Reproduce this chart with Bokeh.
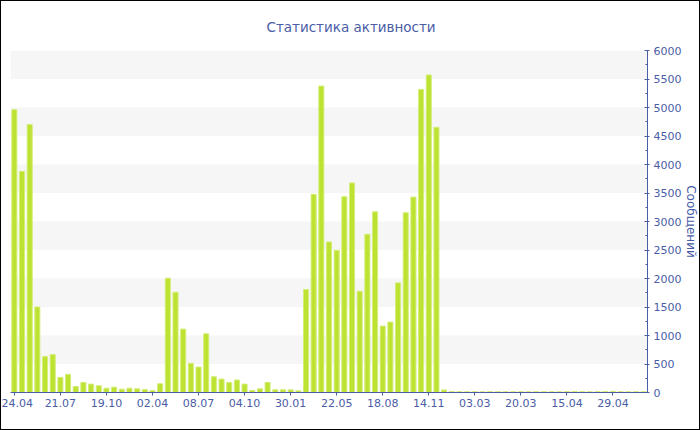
from bokeh.plotting import figure
from bokeh.models import Range1d, FixedTicker
from bokeh.embed import file_html
from bokeh.resources import INLINE

BAR_VALUES = [
    4960, 3880, 4700, 1500, 630, 665, 265, 318, 106, 176,
    147, 118, 76, 94, 59, 76, 65, 53, 35, 153,
    2006, 1759, 1112, 512, 447, 1029, 276, 235, 176, 220,
    147, 35, 65, 176, 47, 47, 47, 29, 1806, 3476,
    5376, 2641, 2494, 3435, 3676, 1776, 2776, 3170, 1165, 1235,
    1923, 3153, 3429, 5317, 5570, 4653, 45, 18, 16, 14,
    15, 13, 16, 15, 14, 13, 15, 14, 16, 15,
    14, 13, 18, 20, 17, 14, 16, 19, 20, 15,
    14, 15, 14,
]
TICK_LABELS = ["24.04", "21.07", "19.10", "02.04", "08.07", "04.10", "30.01",
               "22.05", "18.08", "14.11", "03.03", "20.03", "15.04", "29.04"]
TICK_STEP = 6
Y_MAX = 6000
Y_STEP = 500

BLUE = "#4a5da6"
FONT = "DejaVu Sans"

xs = list(range(len(BAR_VALUES)))
tick_pos = [i * TICK_STEP for i in range(len(TICK_LABELS))]

p = figure(width=700, height=430, output_backend="svg", toolbar_location=None,
           x_range=Range1d(-0.5, len(BAR_VALUES) - 0.5), y_range=Range1d(0, Y_MAX),
           y_axis_location="right",
           min_border_left=9, min_border_right=48, min_border_top=49, min_border_bottom=39,
           title="Статистика активности")
p.outline_line_color = None
p.background_fill_color = "white"
p.border_fill_color = "white"
p.styles = {"border": "1px solid black", "box-sizing": "border-box"}

p.title.text_font = FONT
p.title.text_font_size = "13.5px"
p.title.text_font_style = "normal"
p.title.text_color = BLUE
p.title.align = "left"
p.title.offset = 256
p.title.standoff = 30
p.title.vertical_align = "middle"

p.vbar(x=xs, top=BAR_VALUES, width=0.66, bottom=0,
       fill_color="#bde231", line_color="#d3ee78", line_width=1)

# grid bands
p.xgrid.visible = False
p.ygrid.grid_line_color = None
p.ygrid.band_fill_color = "#f6f6f6"
p.ygrid.band_fill_alpha = 1.0

yax = p.yaxis[0]
yax.ticker = FixedTicker(ticks=list(range(0, Y_MAX + 1, Y_STEP)),
                         minor_ticks=list(range(0, Y_MAX + 1, Y_STEP // 2)))
yax.axis_label = "Сообщений"
yax.axis_label_text_font = FONT
yax.axis_label_text_font_size = "12px"
yax.axis_label_text_font_style = "normal"
yax.axis_label_text_color = BLUE
yax.axis_label_standoff = 0
yax.major_label_text_font = FONT
yax.major_label_text_font_size = "11px"
yax.major_label_text_color = BLUE
yax.major_label_standoff = 4
yax.axis_line_color = BLUE
yax.major_tick_line_color = BLUE
yax.minor_tick_line_color = BLUE
yax.major_tick_in = 3
yax.major_tick_out = 2
yax.minor_tick_in = 2
yax.minor_tick_out = 0

xax = p.xaxis[0]
xax.ticker = FixedTicker(ticks=tick_pos)
xax.major_label_overrides = {pos: lab for pos, lab in zip(tick_pos, TICK_LABELS)}
xax.major_label_text_font = FONT
xax.major_label_text_font_size = "11px"
xax.major_label_text_color = BLUE
xax.major_label_standoff = 3
xax.axis_line_color = BLUE
xax.major_tick_line_color = BLUE
xax.major_tick_in = 0
xax.major_tick_out = 3
xax.minor_tick_line_color = None

open("out.html", "w").write(file_html(p, INLINE))
